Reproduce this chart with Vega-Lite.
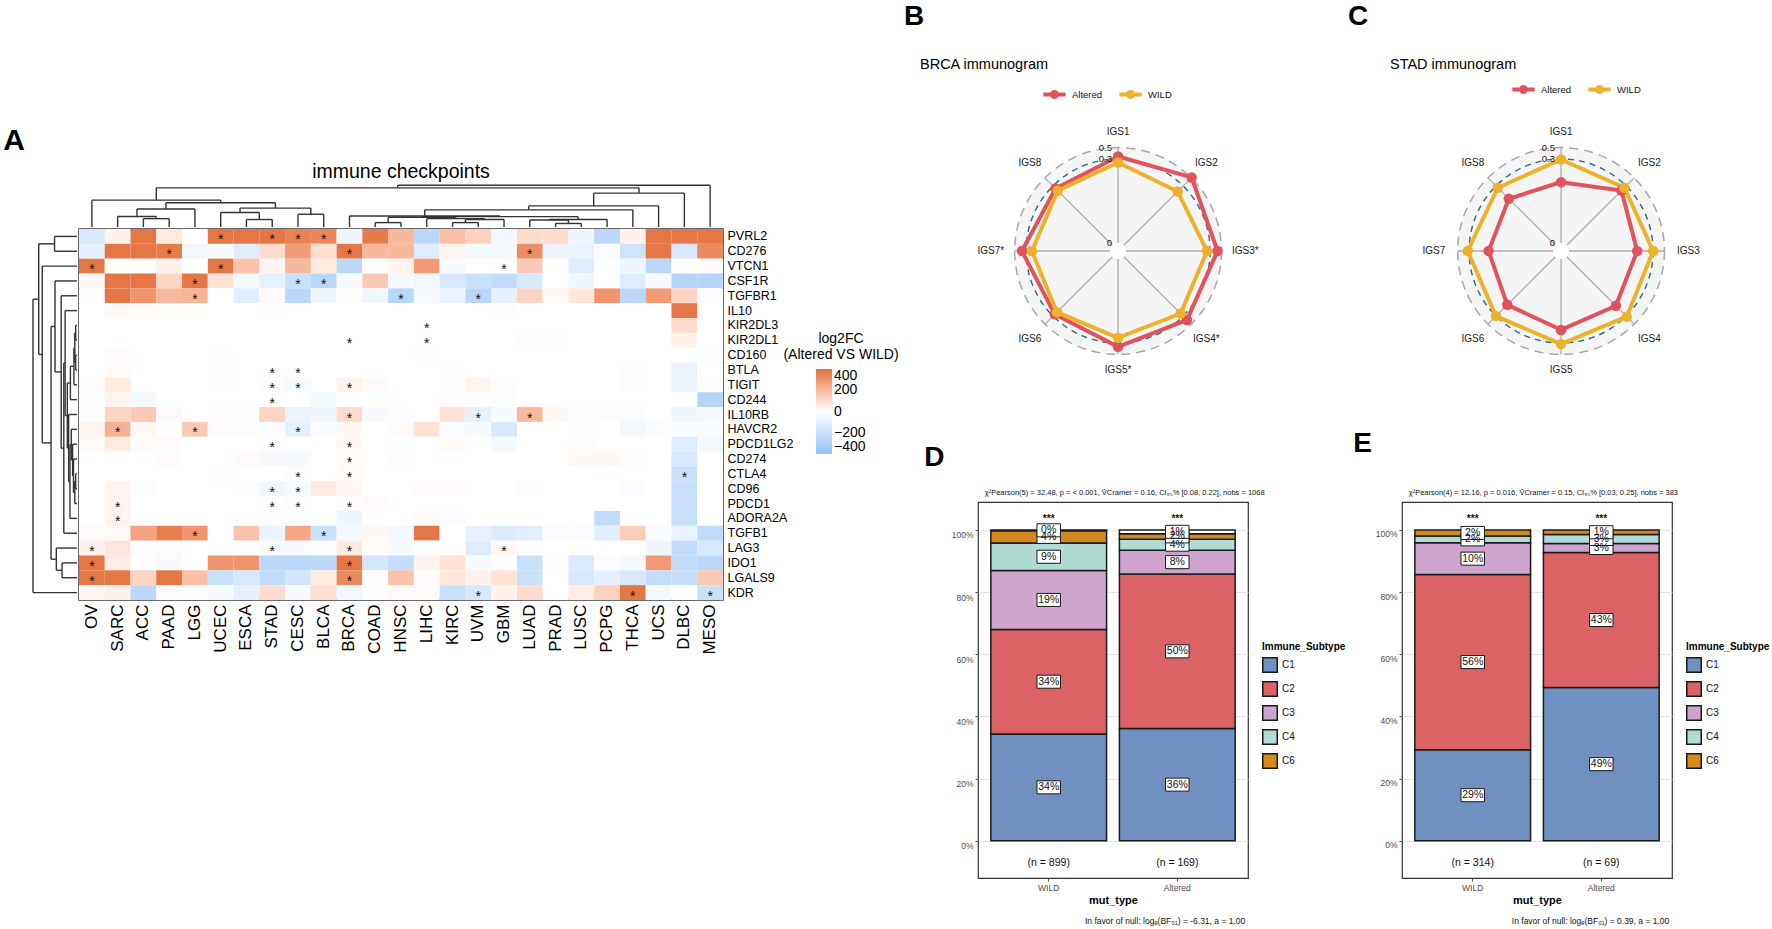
{
  "$schema": "https://vega.github.io/schema/vega-lite/v6.json",
  "background": "white",
  "padding": {"left": 3, "top": 2, "right": 0, "bottom": 0},
  "config": {
    "font": "Liberation Sans, Arial, sans-serif",
    "view": {"stroke": null},
    "title": {"font": "Liberation Sans, Arial, sans-serif", "fontWeight": "normal", "color": "#000000"},
    "axis": {"labelFont": "Liberation Sans, Arial, sans-serif", "titleFont": "Liberation Sans, Arial, sans-serif"},
    "legend": {"labelFont": "Liberation Sans, Arial, sans-serif", "titleFont": "Liberation Sans, Arial, sans-serif"},
    "text": {"font": "Liberation Sans, Arial, sans-serif"}
  },
  "datasets": {
    "hm": [
      {"gene":"PVRL2","OV":-150,"SARC":40,"ACC":380,"PAAD":60,"LGG":0,"UCEC":380,"ESCA":380,"STAD":380,"CESC":350,"BLCA":340,"BRCA":-60,"COAD":370,"HNSC":200,"LIHC":-250,"KIRC":180,"UVM":130,"GBM":-50,"LUAD":100,"PRAD":100,"LUSC":-60,"PCPG":-250,"THCA":40,"UCS":380,"DLBC":380,"MESO":380},
      {"gene":"CD276","OV":-100,"SARC":380,"ACC":380,"PAAD":370,"LGG":-50,"UCEC":-30,"ESCA":-120,"STAD":100,"CESC":280,"BLCA":90,"BRCA":380,"COAD":200,"HNSC":200,"LIHC":-120,"KIRC":30,"UVM":-40,"GBM":-40,"LUAD":320,"PRAD":-80,"LUSC":-80,"PCPG":-20,"THCA":-180,"UCS":380,"DLBC":-150,"MESO":330},
      {"gene":"VTCN1","OV":380,"SARC":0,"ACC":0,"PAAD":40,"LGG":0,"UCEC":380,"ESCA":170,"STAD":30,"CESC":200,"BLCA":60,"BRCA":-250,"COAD":0,"HNSC":30,"LIHC":280,"KIRC":-30,"UVM":0,"GBM":0,"LUAD":150,"PRAD":0,"LUSC":-120,"PCPG":0,"THCA":-60,"UCS":-250,"DLBC":0,"MESO":10},
      {"gene":"CSF1R","OV":20,"SARC":380,"ACC":380,"PAAD":120,"LGG":380,"UCEC":80,"ESCA":-40,"STAD":-90,"CESC":-200,"BLCA":-260,"BRCA":-30,"COAD":150,"HNSC":-30,"LIHC":-50,"KIRC":-150,"UVM":-200,"GBM":-230,"LUAD":-150,"PRAD":0,"LUSC":-60,"PCPG":0,"THCA":-120,"UCS":-30,"DLBC":-270,"MESO":-270},
      {"gene":"TGFBR1","OV":5,"SARC":380,"ACC":300,"PAAD":200,"LGG":210,"UCEC":0,"ESCA":-110,"STAD":10,"CESC":-260,"BLCA":-60,"BRCA":10,"COAD":-50,"HNSC":-260,"LIHC":-30,"KIRC":-80,"UVM":-260,"GBM":-100,"LUAD":120,"PRAD":20,"LUSC":70,"PCPG":300,"THCA":-250,"UCS":280,"DLBC":120,"MESO":-10},
      {"gene":"IL10","OV":0,"SARC":15,"ACC":10,"PAAD":5,"LGG":5,"UCEC":0,"ESCA":0,"STAD":-5,"CESC":0,"BLCA":0,"BRCA":0,"COAD":0,"HNSC":0,"LIHC":0,"KIRC":0,"UVM":0,"GBM":-10,"LUAD":0,"PRAD":0,"LUSC":0,"PCPG":0,"THCA":0,"UCS":0,"DLBC":380,"MESO":0},
      {"gene":"KIR2DL3","OV":0,"SARC":0,"ACC":0,"PAAD":0,"LGG":0,"UCEC":0,"ESCA":0,"STAD":0,"CESC":0,"BLCA":0,"BRCA":0,"COAD":0,"HNSC":0,"LIHC":0,"KIRC":0,"UVM":0,"GBM":0,"LUAD":0,"PRAD":0,"LUSC":0,"PCPG":0,"THCA":0,"UCS":0,"DLBC":100,"MESO":0},
      {"gene":"KIR2DL1","OV":0,"SARC":0,"ACC":0,"PAAD":0,"LGG":0,"UCEC":0,"ESCA":0,"STAD":0,"CESC":0,"BLCA":0,"BRCA":0,"COAD":0,"HNSC":0,"LIHC":0,"KIRC":0,"UVM":0,"GBM":0,"LUAD":-10,"PRAD":5,"LUSC":0,"PCPG":0,"THCA":0,"UCS":0,"DLBC":40,"MESO":0},
      {"gene":"CD160","OV":0,"SARC":10,"ACC":0,"PAAD":0,"LGG":0,"UCEC":-5,"ESCA":0,"STAD":0,"CESC":0,"BLCA":0,"BRCA":0,"COAD":0,"HNSC":0,"LIHC":5,"KIRC":0,"UVM":0,"GBM":0,"LUAD":0,"PRAD":0,"LUSC":0,"PCPG":0,"THCA":0,"UCS":0,"DLBC":0,"MESO":-15},
      {"gene":"BTLA","OV":0,"SARC":15,"ACC":0,"PAAD":0,"LGG":0,"UCEC":-10,"ESCA":0,"STAD":0,"CESC":0,"BLCA":0,"BRCA":0,"COAD":0,"HNSC":0,"LIHC":0,"KIRC":5,"UVM":0,"GBM":0,"LUAD":0,"PRAD":0,"LUSC":0,"PCPG":0,"THCA":-10,"UCS":0,"DLBC":-80,"MESO":0},
      {"gene":"TIGIT","OV":10,"SARC":60,"ACC":0,"PAAD":0,"LGG":0,"UCEC":-10,"ESCA":0,"STAD":-15,"CESC":-30,"BLCA":0,"BRCA":30,"COAD":15,"HNSC":0,"LIHC":0,"KIRC":0,"UVM":30,"GBM":-15,"LUAD":0,"PRAD":0,"LUSC":0,"PCPG":0,"THCA":-15,"UCS":0,"DLBC":-60,"MESO":-20},
      {"gene":"CD244","OV":0,"SARC":30,"ACC":-40,"PAAD":0,"LGG":0,"UCEC":0,"ESCA":0,"STAD":0,"CESC":0,"BLCA":-40,"BRCA":0,"COAD":0,"HNSC":0,"LIHC":0,"KIRC":10,"UVM":0,"GBM":-10,"LUAD":0,"PRAD":0,"LUSC":0,"PCPG":0,"THCA":0,"UCS":0,"DLBC":0,"MESO":-270},
      {"gene":"IL10RB","OV":-10,"SARC":120,"ACC":150,"PAAD":15,"LGG":0,"UCEC":10,"ESCA":-10,"STAD":120,"CESC":-70,"BLCA":-60,"BRCA":100,"COAD":-30,"HNSC":-10,"LIHC":0,"KIRC":80,"UVM":-100,"GBM":-30,"LUAD":200,"PRAD":20,"LUSC":-20,"PCPG":-20,"THCA":-20,"UCS":0,"DLBC":-60,"MESO":-40},
      {"gene":"HAVCR2","OV":25,"SARC":220,"ACC":20,"PAAD":0,"LGG":150,"UCEC":10,"ESCA":10,"STAD":-20,"CESC":-90,"BLCA":-20,"BRCA":20,"COAD":0,"HNSC":10,"LIHC":80,"KIRC":-20,"UVM":-30,"GBM":-150,"LUAD":0,"PRAD":0,"LUSC":-10,"PCPG":0,"THCA":-40,"UCS":-20,"DLBC":-20,"MESO":-20},
      {"gene":"PDCD1LG2","OV":15,"SARC":60,"ACC":10,"PAAD":10,"LGG":0,"UCEC":0,"ESCA":0,"STAD":-10,"CESC":0,"BLCA":0,"BRCA":20,"COAD":0,"HNSC":0,"LIHC":0,"KIRC":15,"UVM":0,"GBM":-40,"LUAD":0,"PRAD":0,"LUSC":10,"PCPG":0,"THCA":0,"UCS":0,"DLBC":-120,"MESO":-40},
      {"gene":"CD274","OV":0,"SARC":0,"ACC":0,"PAAD":10,"LGG":0,"UCEC":0,"ESCA":10,"STAD":-30,"CESC":-30,"BLCA":0,"BRCA":15,"COAD":0,"HNSC":-10,"LIHC":0,"KIRC":0,"UVM":0,"GBM":0,"LUAD":0,"PRAD":0,"LUSC":20,"PCPG":20,"THCA":-10,"UCS":0,"DLBC":-150,"MESO":0},
      {"gene":"CTLA4","OV":0,"SARC":0,"ACC":0,"PAAD":0,"LGG":0,"UCEC":-10,"ESCA":0,"STAD":0,"CESC":-10,"BLCA":0,"BRCA":15,"COAD":0,"HNSC":0,"LIHC":0,"KIRC":0,"UVM":0,"GBM":0,"LUAD":0,"PRAD":0,"LUSC":0,"PCPG":0,"THCA":0,"UCS":0,"DLBC":-200,"MESO":0},
      {"gene":"CD96","OV":0,"SARC":30,"ACC":-10,"PAAD":0,"LGG":0,"UCEC":0,"ESCA":-10,"STAD":-50,"CESC":-30,"BLCA":60,"BRCA":20,"COAD":0,"HNSC":0,"LIHC":10,"KIRC":15,"UVM":0,"GBM":0,"LUAD":-20,"PRAD":0,"LUSC":0,"PCPG":0,"THCA":-20,"UCS":0,"DLBC":-200,"MESO":0},
      {"gene":"PDCD1","OV":0,"SARC":30,"ACC":0,"PAAD":0,"LGG":0,"UCEC":0,"ESCA":0,"STAD":0,"CESC":-15,"BLCA":0,"BRCA":5,"COAD":10,"HNSC":0,"LIHC":0,"KIRC":0,"UVM":0,"GBM":0,"LUAD":0,"PRAD":0,"LUSC":0,"PCPG":0,"THCA":0,"UCS":0,"DLBC":-200,"MESO":0},
      {"gene":"ADORA2A","OV":0,"SARC":30,"ACC":0,"PAAD":0,"LGG":0,"UCEC":0,"ESCA":0,"STAD":-10,"CESC":-10,"BLCA":0,"BRCA":-60,"COAD":0,"HNSC":0,"LIHC":10,"KIRC":-20,"UVM":0,"GBM":0,"LUAD":0,"PRAD":0,"LUSC":0,"PCPG":-230,"THCA":0,"UCS":0,"DLBC":-200,"MESO":0},
      {"gene":"TGFB1","OV":10,"SARC":15,"ACC":260,"PAAD":360,"LGG":300,"UCEC":0,"ESCA":170,"STAD":-70,"CESC":250,"BLCA":-200,"BRCA":-40,"COAD":20,"HNSC":-40,"LIHC":380,"KIRC":0,"UVM":-90,"GBM":-130,"LUAD":-110,"PRAD":-20,"LUSC":-20,"PCPG":-110,"THCA":140,"UCS":-20,"DLBC":-80,"MESO":-230},
      {"gene":"LAG3","OV":40,"SARC":70,"ACC":-10,"PAAD":10,"LGG":0,"UCEC":0,"ESCA":0,"STAD":-30,"CESC":-30,"BLCA":-20,"BRCA":60,"COAD":10,"HNSC":-30,"LIHC":0,"KIRC":0,"UVM":-120,"GBM":20,"LUAD":-10,"PRAD":0,"LUSC":0,"PCPG":0,"THCA":0,"UCS":-60,"DLBC":-230,"MESO":-150},
      {"gene":"IDO1","OV":380,"SARC":50,"ACC":0,"PAAD":-30,"LGG":0,"UCEC":300,"ESCA":300,"STAD":-250,"CESC":-250,"BLCA":-250,"BRCA":380,"COAD":-160,"HNSC":-220,"LIHC":30,"KIRC":80,"UVM":-30,"GBM":-10,"LUAD":-200,"PRAD":-5,"LUSC":-130,"PCPG":-20,"THCA":-40,"UCS":280,"DLBC":-230,"MESO":-250},
      {"gene":"LGALS9","OV":380,"SARC":380,"ACC":120,"PAAD":380,"LGG":180,"UCEC":-200,"ESCA":-150,"STAD":-230,"CESC":-170,"BLCA":60,"BRCA":330,"COAD":5,"HNSC":170,"LIHC":10,"KIRC":70,"UVM":40,"GBM":80,"LUAD":-200,"PRAD":0,"LUSC":-150,"PCPG":-100,"THCA":-150,"UCS":-220,"DLBC":-220,"MESO":150},
      {"gene":"KDR","OV":30,"SARC":40,"ACC":-250,"PAAD":-20,"LGG":-15,"UCEC":-30,"ESCA":-100,"STAD":100,"CESC":-30,"BLCA":90,"BRCA":-50,"COAD":0,"HNSC":15,"LIHC":10,"KIRC":-200,"UVM":-150,"GBM":40,"LUAD":100,"PRAD":0,"LUSC":50,"PCPG":130,"THCA":380,"UCS":-40,"DLBC":0,"MESO":-200}
    ],
    "stars": [
      {"gene":"PVRL2","cancer":"UCEC"},{"gene":"PVRL2","cancer":"STAD"},{"gene":"PVRL2","cancer":"CESC"},{"gene":"PVRL2","cancer":"BLCA"},
      {"gene":"CD276","cancer":"PAAD"},{"gene":"CD276","cancer":"BRCA"},{"gene":"CD276","cancer":"LUAD"},
      {"gene":"VTCN1","cancer":"OV"},{"gene":"VTCN1","cancer":"UCEC"},{"gene":"VTCN1","cancer":"GBM"},
      {"gene":"CSF1R","cancer":"LGG"},{"gene":"CSF1R","cancer":"CESC"},{"gene":"CSF1R","cancer":"BLCA"},
      {"gene":"TGFBR1","cancer":"LGG"},{"gene":"TGFBR1","cancer":"HNSC"},{"gene":"TGFBR1","cancer":"UVM"},
      {"gene":"KIR2DL3","cancer":"LIHC"},
      {"gene":"KIR2DL1","cancer":"BRCA"},{"gene":"KIR2DL1","cancer":"LIHC"},
      {"gene":"BTLA","cancer":"STAD"},{"gene":"BTLA","cancer":"CESC"},
      {"gene":"TIGIT","cancer":"STAD"},{"gene":"TIGIT","cancer":"CESC"},{"gene":"TIGIT","cancer":"BRCA"},
      {"gene":"CD244","cancer":"STAD"},
      {"gene":"IL10RB","cancer":"BRCA"},{"gene":"IL10RB","cancer":"UVM"},{"gene":"IL10RB","cancer":"LUAD"},
      {"gene":"HAVCR2","cancer":"SARC"},{"gene":"HAVCR2","cancer":"LGG"},{"gene":"HAVCR2","cancer":"CESC"},
      {"gene":"PDCD1LG2","cancer":"STAD"},{"gene":"PDCD1LG2","cancer":"BRCA"},
      {"gene":"CD274","cancer":"BRCA"},
      {"gene":"CTLA4","cancer":"CESC"},{"gene":"CTLA4","cancer":"BRCA"},{"gene":"CTLA4","cancer":"DLBC"},
      {"gene":"CD96","cancer":"STAD"},{"gene":"CD96","cancer":"CESC"},
      {"gene":"PDCD1","cancer":"SARC"},{"gene":"PDCD1","cancer":"STAD"},{"gene":"PDCD1","cancer":"CESC"},{"gene":"PDCD1","cancer":"BRCA"},
      {"gene":"ADORA2A","cancer":"SARC"},
      {"gene":"TGFB1","cancer":"LGG"},{"gene":"TGFB1","cancer":"BLCA"},
      {"gene":"LAG3","cancer":"OV"},{"gene":"LAG3","cancer":"STAD"},{"gene":"LAG3","cancer":"BRCA"},{"gene":"LAG3","cancer":"GBM"},
      {"gene":"IDO1","cancer":"OV"},{"gene":"IDO1","cancer":"BRCA"},
      {"gene":"LGALS9","cancer":"OV"},{"gene":"LGALS9","cancer":"BRCA"},
      {"gene":"KDR","cancer":"UVM"},{"gene":"KDR","cancer":"THCA"},{"gene":"KDR","cancer":"MESO"}
    ],
    "coltree": [
      {"a":2,"ha":0,"b":3,"hb":0,"h":0.19},
      {"a":1,"ha":0,"b":2.5,"hb":0.19,"h":0.24},
      {"a":1.75,"ha":0.24,"b":4,"hb":0,"h":0.41},
      {"a":6,"ha":0,"b":7,"hb":0,"h":0.17},
      {"a":5,"ha":0,"b":6.5,"hb":0.17,"h":0.33},
      {"a":8,"ha":0,"b":9,"hb":0,"h":0.29},
      {"a":5.75,"ha":0.33,"b":8.5,"hb":0.29,"h":0.43},
      {"a":2.875,"ha":0.41,"b":7.125,"hb":0.43,"h":0.55},
      {"a":0,"ha":0,"b":5.0,"hb":0.55,"h":0.61},
      {"a":11,"ha":0,"b":12,"hb":0,"h":0.10},
      {"a":14,"ha":0,"b":15,"hb":0,"h":0.10},
      {"a":14.5,"ha":0.10,"b":16,"hb":0,"h":0.17},
      {"a":18,"ha":0,"b":19,"hb":0,"h":0.08},
      {"a":17,"ha":0,"b":18.5,"hb":0.08,"h":0.16},
      {"a":17.75,"ha":0.16,"b":20,"hb":0,"h":0.17},
      {"a":13,"ha":0,"b":15.25,"hb":0.17,"h":0.19},
      {"a":11.5,"ha":0.10,"b":14.125,"hb":0.19,"h":0.22},
      {"a":12.8125,"ha":0.22,"b":18.875,"hb":0.17,"h":0.235},
      {"a":10,"ha":0,"b":15.84,"hb":0.235,"h":0.25},
      {"a":12.92,"ha":0.25,"b":21,"hb":0,"h":0.39},
      {"a":16.96,"ha":0.39,"b":22,"hb":0,"h":0.48},
      {"a":19.48,"ha":0.48,"b":23,"hb":0,"h":0.77},
      {"a":2.5,"ha":0.61,"b":21.24,"hb":0.77,"h":0.89},
      {"a":11.87,"ha":0.89,"b":24,"hb":0,"h":0.95}
    ],
    "rowtree": [
      {"a":0,"ha":0,"b":1,"hb":0,"h":0.51},
      {"a":6,"ha":0,"b":7,"hb":0,"h":0.03},
      {"a":8,"ha":0,"b":9,"hb":0,"h":0.03},
      {"a":6.5,"ha":0.03,"b":8.5,"hb":0.03,"h":0.05},
      {"a":7.5,"ha":0.05,"b":10,"hb":0,"h":0.07},
      {"a":8.75,"ha":0.07,"b":11,"hb":0,"h":0.15},
      {"a":16,"ha":0,"b":17,"hb":0,"h":0.03},
      {"a":16.5,"ha":0.03,"b":18,"hb":0,"h":0.05},
      {"a":15,"ha":0,"b":17.25,"hb":0.05,"h":0.08},
      {"a":14,"ha":0,"b":16.125,"hb":0.08,"h":0.10},
      {"a":13,"ha":0,"b":15.06,"hb":0.10,"h":0.13},
      {"a":14.03,"ha":0.13,"b":19,"hb":0,"h":0.16},
      {"a":12,"ha":0,"b":16.52,"hb":0.16,"h":0.19},
      {"a":9.875,"ha":0.15,"b":14.26,"hb":0.19,"h":0.22},
      {"a":5,"ha":0,"b":12.07,"hb":0.22,"h":0.27},
      {"a":8.53,"ha":0.27,"b":20,"hb":0,"h":0.30},
      {"a":4,"ha":0,"b":14.27,"hb":0.30,"h":0.36},
      {"a":3,"ha":0,"b":9.13,"hb":0.36,"h":0.50},
      {"a":22,"ha":0,"b":23,"hb":0,"h":0.34},
      {"a":21,"ha":0,"b":22.5,"hb":0.34,"h":0.47},
      {"a":6.07,"ha":0.50,"b":21.75,"hb":0.47,"h":0.59},
      {"a":2,"ha":0,"b":13.91,"hb":0.59,"h":0.79},
      {"a":0.5,"ha":0.51,"b":7.95,"hb":0.79,"h":0.87},
      {"a":4.23,"ha":0.87,"b":24,"hb":0,"h":1.0}
    ],
    "radarB": [
      {"grp":"Altered","k":0,"v":0.342},{"grp":"Altered","k":1,"v":0.51},{"grp":"Altered","k":2,"v":0.43},{"grp":"Altered","k":3,"v":0.395},
      {"grp":"Altered","k":4,"v":0.365},{"grp":"Altered","k":5,"v":0.291},{"grp":"Altered","k":6,"v":0.371},{"grp":"Altered","k":7,"v":0.287},
      {"grp":"WILD","k":0,"v":0.287},{"grp":"WILD","k":1,"v":0.272},{"grp":"WILD","k":2,"v":0.289},{"grp":"WILD","k":3,"v":0.287},
      {"grp":"WILD","k":4,"v":0.281},{"grp":"WILD","k":5,"v":0.280},{"grp":"WILD","k":6,"v":0.279},{"grp":"WILD","k":7,"v":0.276}
    ],
    "radarC": [
      {"grp":"Altered","k":0,"v":0.217},{"grp":"Altered","k":1,"v":0.276},{"grp":"Altered","k":2,"v":0.243},{"grp":"Altered","k":3,"v":0.248},
      {"grp":"Altered","k":4,"v":0.253},{"grp":"Altered","k":5,"v":0.243},{"grp":"Altered","k":6,"v":0.230},{"grp":"Altered","k":7,"v":0.235},
      {"grp":"WILD","k":0,"v":0.298},{"grp":"WILD","k":1,"v":0.291},{"grp":"WILD","k":2,"v":0.300},{"grp":"WILD","k":3,"v":0.314},
      {"grp":"WILD","k":4,"v":0.318},{"grp":"WILD","k":5,"v":0.300},{"grp":"WILD","k":6,"v":0.323},{"grp":"WILD","k":7,"v":0.291}
    ],
    "axesB": [
      {"k":0,"label":"IGS1"},{"k":1,"label":"IGS2"},{"k":2,"label":"IGS3*"},{"k":3,"label":"IGS4*"},
      {"k":4,"label":"IGS5*"},{"k":5,"label":"IGS6"},{"k":6,"label":"IGS7*"},{"k":7,"label":"IGS8"}
    ],
    "axesC": [
      {"k":0,"label":"IGS1"},{"k":1,"label":"IGS2"},{"k":2,"label":"IGS3"},{"k":3,"label":"IGS4"},
      {"k":4,"label":"IGS5"},{"k":5,"label":"IGS6"},{"k":6,"label":"IGS7"},{"k":7,"label":"IGS8"}
    ],
    "rings": [{"lab":"0.5","v":0.5},{"lab":"0.3","v":0.3},{"lab":"0","v":0}],
    "barD": [
      {"mut":"WILD","sub":"C1","n":309,"ord":1},{"mut":"WILD","sub":"C2","n":302,"ord":2},{"mut":"WILD","sub":"C3","n":171,"ord":3},
      {"mut":"WILD","sub":"C4","n":79,"ord":4},{"mut":"WILD","sub":"C6","n":36,"ord":5},{"mut":"WILD","sub":"C5","n":2,"ord":6},
      {"mut":"Altered","sub":"C1","n":61,"ord":1},{"mut":"Altered","sub":"C2","n":84,"ord":2},{"mut":"Altered","sub":"C3","n":13,"ord":3},
      {"mut":"Altered","sub":"C4","n":6,"ord":4},{"mut":"Altered","sub":"C6","n":3,"ord":5},{"mut":"Altered","sub":"C5","n":2,"ord":6}
    ],
    "barE": [
      {"mut":"WILD","sub":"C1","n":92,"ord":1},{"mut":"WILD","sub":"C2","n":177,"ord":2},{"mut":"WILD","sub":"C3","n":32,"ord":3},
      {"mut":"WILD","sub":"C4","n":7,"ord":4},{"mut":"WILD","sub":"C6","n":6,"ord":5},
      {"mut":"Altered","sub":"C1","n":34,"ord":1},{"mut":"Altered","sub":"C2","n":30,"ord":2},{"mut":"Altered","sub":"C3","n":2,"ord":3},
      {"mut":"Altered","sub":"C4","n":2,"ord":4},{"mut":"Altered","sub":"C6","n":1,"ord":5}
    ],
    "annD": [
      {"mut":"WILD","kind":"star","label":"***"},{"mut":"Altered","kind":"star","label":"***"},
      {"mut":"WILD","kind":"n","label":"(n = 899)"},{"mut":"Altered","kind":"n","label":"(n = 169)"},
      {"mut":"WILD","kind":"chi","label":"\u03c7\u00b2Pearson(5) = 32.48, p = < 0.001, V\u0302Cramer = 0.16, CI\u2089\u2085% [0.08, 0.22], nobs = 1068"},
      {"mut":"Altered","kind":"cap","label":"In favor of null: log\u2091(BF\u2080\u2081) = -6.31, a = 1.00"}
    ],
    "annE": [
      {"mut":"WILD","kind":"star","label":"***"},{"mut":"Altered","kind":"star","label":"***"},
      {"mut":"WILD","kind":"n","label":"(n = 314)"},{"mut":"Altered","kind":"n","label":"(n = 69)"},
      {"mut":"WILD","kind":"chi","label":"\u03c7\u00b2Pearson(4) = 12.16, p = 0.016, V\u0302Cramer = 0.15, CI\u2089\u2085% [0.03, 0.25], nobs = 383"},
      {"mut":"Altered","kind":"cap","label":"In favor of null: log\u2091(BF\u2080\u2081) = 0.39, a = 1.00"}
    ]
  },
  "resolve": {"scale": {"color": "independent", "fill": "independent"}, "legend": {"color": "independent", "fill": "independent"}},
  "spacing": 4,
  "hconcat": [
    {
      "spacing": 0,
      "resolve": {"scale": {"color": "independent", "fill": "independent"}, "legend": {"color": "independent", "fill": "independent"}},
      "vconcat": [
        {"data": {"values": [{}]}, "mark": {"type": "point", "opacity": 0}, "encoding": {}, "width": 10, "height": 24},
        {
          "title": {"text": "A", "fontSize": 30, "fontWeight": "bold", "anchor": "start", "frame": "bounds", "dx": -29, "offset": 6},
          "columns": 2,
          "spacing": 0,
          "resolve": {"scale": {"color": "independent", "fill": "independent"}, "legend": {"color": "independent", "fill": "independent"}},
          "concat": [
            {"data": {"values": [{}]}, "mark": {"type": "point", "opacity": 0}, "encoding": {}, "width": 44, "height": 44},
            {
              "width": 644, "height": 44,
              "title": {"text": "immune checkpoints", "fontSize": 19.5, "anchor": "middle", "offset": 1},
              "data": {"name": "coltree"},
              "layer": [
                {"mark": {"type": "rule", "color": "#333333", "strokeWidth": 1.4},
                 "encoding": {"x": {"field": "a", "type": "quantitative", "scale": {"domain": [-0.5, 24.5], "nice": false, "zero": false}, "axis": null},
                              "x2": {"field": "b"},
                              "y": {"field": "h", "type": "quantitative", "scale": {"domain": [0, 1], "nice": false}, "axis": null}}},
                {"mark": {"type": "rule", "color": "#333333", "strokeWidth": 1.4},
                 "encoding": {"x": {"field": "a", "type": "quantitative", "scale": {"domain": [-0.5, 24.5], "nice": false, "zero": false}, "axis": null},
                              "y": {"field": "ha", "type": "quantitative", "scale": {"domain": [0, 1], "nice": false}, "axis": null},
                              "y2": {"field": "h"}}},
                {"mark": {"type": "rule", "color": "#333333", "strokeWidth": 1.4},
                 "encoding": {"x": {"field": "b", "type": "quantitative", "scale": {"domain": [-0.5, 24.5], "nice": false, "zero": false}, "axis": null},
                              "y": {"field": "hb", "type": "quantitative", "scale": {"domain": [0, 1], "nice": false}, "axis": null},
                              "y2": {"field": "h"}}}
              ]
            },
            {
              "width": 44, "height": 371,
              "data": {"name": "rowtree"},
              "layer": [
                {"mark": {"type": "rule", "color": "#333333", "strokeWidth": 1.4},
                 "encoding": {"x": {"field": "h", "type": "quantitative", "scale": {"domain": [0, 1], "reverse": true, "nice": false}, "axis": null},
                              "y": {"field": "a", "type": "quantitative", "scale": {"domain": [-0.5, 24.5], "reverse": true, "nice": false, "zero": false}, "axis": null},
                              "y2": {"field": "b"}}},
                {"mark": {"type": "rule", "color": "#333333", "strokeWidth": 1.4},
                 "encoding": {"y": {"field": "a", "type": "quantitative", "scale": {"domain": [-0.5, 24.5], "reverse": true, "nice": false, "zero": false}, "axis": null},
                              "x": {"field": "ha", "type": "quantitative", "scale": {"domain": [0, 1], "reverse": true, "nice": false}, "axis": null},
                              "x2": {"field": "h"}}},
                {"mark": {"type": "rule", "color": "#333333", "strokeWidth": 1.4},
                 "encoding": {"y": {"field": "b", "type": "quantitative", "scale": {"domain": [-0.5, 24.5], "reverse": true, "nice": false, "zero": false}, "axis": null},
                              "x": {"field": "hb", "type": "quantitative", "scale": {"domain": [0, 1], "reverse": true, "nice": false}, "axis": null},
                              "x2": {"field": "h"}}}
              ]
            },
            {
              "width": 644, "height": 371,
              "view": {"stroke": "#3a3a3a", "strokeWidth": 1.5},
              "layer": [
                {
                  "data": {"name": "hm"},
                  "transform": [{"fold": ["OV","SARC","ACC","PAAD","LGG","UCEC","ESCA","STAD","CESC","BLCA","BRCA","COAD","HNSC","LIHC","KIRC","UVM","GBM","LUAD","PRAD","LUSC","PCPG","THCA","UCS","DLBC","MESO"], "as": ["cancer", "value"]}],
                  "mark": {"type": "rect"},
                  "encoding": {
                    "x": {"field": "cancer", "type": "nominal",
                          "sort": ["OV","SARC","ACC","PAAD","LGG","UCEC","ESCA","STAD","CESC","BLCA","BRCA","COAD","HNSC","LIHC","KIRC","UVM","GBM","LUAD","PRAD","LUSC","PCPG","THCA","UCS","DLBC","MESO"],
                          "axis": {"orient": "bottom", "title": null, "labelAngle": -90, "labelFontSize": 17, "labelPadding": 4, "ticks": false, "domain": false, "labelColor": "#000000"}},
                    "y": {"field": "gene", "type": "nominal",
                          "sort": ["PVRL2","CD276","VTCN1","CSF1R","TGFBR1","IL10","KIR2DL3","KIR2DL1","CD160","BTLA","TIGIT","CD244","IL10RB","HAVCR2","PDCD1LG2","CD274","CTLA4","CD96","PDCD1","ADORA2A","TGFB1","LAG3","IDO1","LGALS9","KDR"],
                          "axis": {"orient": "right", "title": null, "labelFontSize": 12.5, "labelPadding": 4, "ticks": false, "domain": false, "labelColor": "#000000"}},
                    "color": {"field": "value", "type": "quantitative",
                              "scale": {"domain": [-400, 0, 400], "range": ["#8FC2F6", "#FFFFFF", "#E2703E"], "clamp": true, "interpolate": "lab"},
                              "legend": {"orient": "none", "legendX": 704, "legendY": 103, "direction": "vertical",
                                         "title": ["log2FC", "(Altered VS WILD)"], "titleFontSize": 14, "titleFontWeight": "normal",
                                         "titleAlign": "center", "titleAnchor": "middle", "titlePadding": 7,
                                         "gradientLength": 85, "gradientThickness": 16,
                                         "values": [400, 200, 0, -200, -400], "labelFontSize": 14, "labelColor": "#000000"}}
                  }
                },
                {
                  "data": {"name": "stars"},
                  "mark": {"type": "text", "text": "*", "fontSize": 14, "dy": 4, "color": "#111111"},
                  "encoding": {
                    "x": {"field": "cancer", "type": "nominal", "sort": ["OV","SARC","ACC","PAAD","LGG","UCEC","ESCA","STAD","CESC","BLCA","BRCA","COAD","HNSC","LIHC","KIRC","UVM","GBM","LUAD","PRAD","LUSC","PCPG","THCA","UCS","DLBC","MESO"]},
                    "y": {"field": "gene", "type": "nominal", "sort": ["PVRL2","CD276","VTCN1","CSF1R","TGFBR1","IL10","KIR2DL3","KIR2DL1","CD160","BTLA","TIGIT","CD244","IL10RB","HAVCR2","PDCD1LG2","CD274","CTLA4","CD96","PDCD1","ADORA2A","TGFB1","LAG3","IDO1","LGALS9","KDR"]}
                  }
                }
              ]
            }
          ]
        }
      ]
    },
    {
      "spacing": 28,
      "resolve": {"scale": {"color": "independent", "fill": "independent"}, "legend": {"color": "independent", "fill": "independent"}},
      "vconcat": [
        {
          "spacing": 70,
          "resolve": {"scale": {"color": "independent", "fill": "independent"}, "legend": {"color": "independent", "fill": "independent"}},
          "hconcat": [
            {
              "title": {"text": "B", "fontSize": 28, "fontWeight": "bold", "anchor": "start", "frame": "bounds", "dx": -16, "offset": 26},
              "vconcat": [
                {
                  "width": 300, "height": 300,
                  "title": {"text": "BRCA immunogram", "fontSize": 14.5, "anchor": "start", "frame": "group", "dx": -58, "offset": 29},
                  "layer": [
                    {"data": {"values": [{}]}, "mark": {"type": "point", "shape": "circle", "filled": true, "size": 42767, "color": "#F5F5F5", "opacity": 1},
                     "encoding": {"x": {"datum": 0, "type": "quantitative", "scale": {"domain": [-1.354, 1.546], "nice": false, "zero": false}, "axis": null},
                                  "y": {"datum": 0, "type": "quantitative", "scale": {"domain": [-1.45, 1.45], "nice": false, "zero": false}, "axis": null}}},
                    {"data": {"values": [{}]}, "mark": {"type": "point", "shape": "circle", "filled": false, "size": 42767, "stroke": "#A8A8A8", "strokeWidth": 1.5, "strokeDash": [9, 6], "opacity": 1},
                     "encoding": {"x": {"datum": 0, "type": "quantitative"}, "y": {"datum": 0, "type": "quantitative"}}},
                    {"data": {"values": [{}]}, "mark": {"type": "point", "shape": "circle", "filled": false, "size": 33870, "stroke": "#236B8C", "strokeWidth": 1.4, "strokeDash": [6, 5], "opacity": 1},
                     "encoding": {"x": {"datum": 0, "type": "quantitative"}, "y": {"datum": 0, "type": "quantitative"}}},
                    {"data": {"name": "axesB"},
                     "transform": [{"calculate": "0.078*sin(datum.k*PI/4)", "as": "sx"}, {"calculate": "0.078*cos(datum.k*PI/4)", "as": "sy"},
                                   {"calculate": "sin(datum.k*PI/4)", "as": "ex"}, {"calculate": "cos(datum.k*PI/4)", "as": "ey"}],
                     "mark": {"type": "rule", "color": "#ABABAB", "strokeWidth": 1.3},
                     "encoding": {"x": {"field": "sx", "type": "quantitative"}, "y": {"field": "sy", "type": "quantitative"},
                                  "x2": {"field": "ex"}, "y2": {"field": "ey"}}},
                    {"data": {"values": [{}]}, "mark": {"type": "point", "shape": "circle", "filled": true, "size": 256, "color": "#FFFFFF", "opacity": 1},
                     "encoding": {"x": {"datum": 0, "type": "quantitative"}, "y": {"datum": 0, "type": "quantitative"}}},
                    {"data": {"name": "radarB"},
                     "transform": [{"calculate": "datum.v <= 0.3 ? 0.078 + datum.v * 2.707 : 0.89 + (datum.v - 0.3) * 0.55", "as": "rr"},
                                   {"calculate": "datum.rr*sin(datum.k*PI/4)", "as": "px"}, {"calculate": "datum.rr*cos(datum.k*PI/4)", "as": "py"}],
                     "layer": [
                       {"mark": {"type": "line", "strokeWidth": 4, "interpolate": "linear-closed"},
                        "encoding": {"x": {"field": "px", "type": "quantitative"}, "y": {"field": "py", "type": "quantitative"},
                                     "order": {"field": "k", "type": "quantitative"},
                                     "color": {"field": "grp", "type": "nominal", "scale": {"domain": ["Altered", "WILD"], "range": ["#E0535C", "#EDB12B"]},
                                               "legend": {"orient": "none", "legendX": 63, "legendY": -20, "direction": "horizontal", "title": null, "labelFontSize": 9.5, "labelColor": "#111111",
                                                          "symbolType": "M-1,0L1,0M0.22,0A0.22,0.22,0,1,1,-0.22,0A0.22,0.22,0,1,1,0.22,0", "symbolSize": 500,
                                                          "symbolStrokeWidth": 4, "columnPadding": 8, "padding": 0}}}},
                       {"mark": {"type": "point", "filled": true, "size": 110, "opacity": 1},
                        "encoding": {"x": {"field": "px", "type": "quantitative"}, "y": {"field": "py", "type": "quantitative"},
                                     "color": {"field": "grp", "type": "nominal", "legend": null}}}
                     ]},
                    {"data": {"name": "axesB"},
                     "transform": [{"calculate": "1.15 + 0.08*abs(sin(datum.k*PI/4))", "as": "lr"},
                                   {"calculate": "datum.lr*sin(datum.k*PI/4)", "as": "lx"}, {"calculate": "datum.lr*cos(datum.k*PI/4)", "as": "ly"}],
                     "mark": {"type": "text", "fontSize": 10, "color": "#1a1a1a", "align": "center", "baseline": "middle"},
                     "encoding": {"x": {"field": "lx", "type": "quantitative"}, "y": {"field": "ly", "type": "quantitative"}, "text": {"field": "label"}}},
                    {"data": {"name": "rings"},
                     "transform": [{"calculate": "datum.v <= 0.3 ? 0.078 + datum.v * 2.707 : 0.89 + (datum.v - 0.3) * 0.55", "as": "rr"}, {"calculate": "0", "as": "zx"}],
                     "mark": {"type": "text", "fontSize": 9.5, "color": "#1a1a1a", "align": "right", "baseline": "middle", "dx": -6},
                     "encoding": {"x": {"field": "zx", "type": "quantitative"}, "y": {"field": "rr", "type": "quantitative"}, "text": {"field": "lab"}}}
                  ]
                }
              ]
            },
            {
              "title": {"text": "C", "fontSize": 28, "fontWeight": "bold", "anchor": "start", "frame": "bounds", "dx": -42, "offset": 26},
              "vconcat": [
                {
                  "width": 300, "height": 300,
                  "title": {"text": "STAD immunogram", "fontSize": 14.5, "anchor": "start", "frame": "group", "dx": -31, "offset": 29},
                  "layer": [
                    {"data": {"values": [{}]}, "mark": {"type": "point", "shape": "circle", "filled": true, "size": 42767, "color": "#F5F5F5", "opacity": 1},
                     "encoding": {"x": {"datum": 0, "type": "quantitative", "scale": {"domain": [-1.354, 1.546], "nice": false, "zero": false}, "axis": null},
                                  "y": {"datum": 0, "type": "quantitative", "scale": {"domain": [-1.45, 1.45], "nice": false, "zero": false}, "axis": null}}},
                    {"data": {"values": [{}]}, "mark": {"type": "point", "shape": "circle", "filled": false, "size": 42767, "stroke": "#A8A8A8", "strokeWidth": 1.5, "strokeDash": [9, 6], "opacity": 1},
                     "encoding": {"x": {"datum": 0, "type": "quantitative"}, "y": {"datum": 0, "type": "quantitative"}}},
                    {"data": {"values": [{}]}, "mark": {"type": "point", "shape": "circle", "filled": false, "size": 33870, "stroke": "#236B8C", "strokeWidth": 1.4, "strokeDash": [6, 5], "opacity": 1},
                     "encoding": {"x": {"datum": 0, "type": "quantitative"}, "y": {"datum": 0, "type": "quantitative"}}},
                    {"data": {"name": "axesC"},
                     "transform": [{"calculate": "0.078*sin(datum.k*PI/4)", "as": "sx"}, {"calculate": "0.078*cos(datum.k*PI/4)", "as": "sy"},
                                   {"calculate": "sin(datum.k*PI/4)", "as": "ex"}, {"calculate": "cos(datum.k*PI/4)", "as": "ey"}],
                     "mark": {"type": "rule", "color": "#ABABAB", "strokeWidth": 1.3},
                     "encoding": {"x": {"field": "sx", "type": "quantitative"}, "y": {"field": "sy", "type": "quantitative"},
                                  "x2": {"field": "ex"}, "y2": {"field": "ey"}}},
                    {"data": {"values": [{}]}, "mark": {"type": "point", "shape": "circle", "filled": true, "size": 256, "color": "#FFFFFF", "opacity": 1},
                     "encoding": {"x": {"datum": 0, "type": "quantitative"}, "y": {"datum": 0, "type": "quantitative"}}},
                    {"data": {"name": "radarC"},
                     "transform": [{"calculate": "datum.v <= 0.3 ? 0.078 + datum.v * 2.707 : 0.89 + (datum.v - 0.3) * 0.55", "as": "rr"},
                                   {"calculate": "datum.rr*sin(datum.k*PI/4)", "as": "px"}, {"calculate": "datum.rr*cos(datum.k*PI/4)", "as": "py"}],
                     "layer": [
                       {"mark": {"type": "line", "strokeWidth": 4, "interpolate": "linear-closed"},
                        "encoding": {"x": {"field": "px", "type": "quantitative"}, "y": {"field": "py", "type": "quantitative"},
                                     "order": {"field": "k", "type": "quantitative"},
                                     "color": {"field": "grp", "type": "nominal", "scale": {"domain": ["Altered", "WILD"], "range": ["#E0535C", "#EDB12B"]},
                                               "legend": {"orient": "none", "legendX": 89, "legendY": -25, "direction": "horizontal", "title": null, "labelFontSize": 9.5, "labelColor": "#111111",
                                                          "symbolType": "M-1,0L1,0M0.22,0A0.22,0.22,0,1,1,-0.22,0A0.22,0.22,0,1,1,0.22,0", "symbolSize": 500,
                                                          "symbolStrokeWidth": 4, "columnPadding": 8, "padding": 0}}}},
                       {"mark": {"type": "point", "filled": true, "size": 110, "opacity": 1},
                        "encoding": {"x": {"field": "px", "type": "quantitative"}, "y": {"field": "py", "type": "quantitative"},
                                     "color": {"field": "grp", "type": "nominal", "legend": null}}}
                     ]},
                    {"data": {"name": "axesC"},
                     "transform": [{"calculate": "1.15 + 0.08*abs(sin(datum.k*PI/4))", "as": "lr"},
                                   {"calculate": "datum.lr*sin(datum.k*PI/4)", "as": "lx"}, {"calculate": "datum.lr*cos(datum.k*PI/4)", "as": "ly"}],
                     "mark": {"type": "text", "fontSize": 10, "color": "#1a1a1a", "align": "center", "baseline": "middle"},
                     "encoding": {"x": {"field": "lx", "type": "quantitative"}, "y": {"field": "ly", "type": "quantitative"}, "text": {"field": "label"}}},
                    {"data": {"name": "rings"},
                     "transform": [{"calculate": "datum.v <= 0.3 ? 0.078 + datum.v * 2.707 : 0.89 + (datum.v - 0.3) * 0.55", "as": "rr"}, {"calculate": "0", "as": "zx"}],
                     "mark": {"type": "text", "fontSize": 9.5, "color": "#1a1a1a", "align": "right", "baseline": "middle", "dx": -6},
                     "encoding": {"x": {"field": "zx", "type": "quantitative"}, "y": {"field": "rr", "type": "quantitative"}, "text": {"field": "lab"}}}
                  ]
                }
              ]
            }
          ]
        },
        {
          "spacing": 5,
          "resolve": {"scale": {"color": "independent", "fill": "independent"}, "legend": {"color": "independent", "fill": "independent"}},
          "hconcat": [
            {
              "width": 270, "height": 376,
              "view": {"stroke": "#333333", "strokeWidth": 1.2},
              "title": {"text": "D", "fontSize": 28, "fontWeight": "bold", "anchor": "start", "frame": "bounds", "dx": -27, "offset": 17},
              "encoding": {
                "x": {"field": "mut", "type": "nominal", "sort": ["WILD", "Altered"], "scale": {"paddingInner": 0.1, "paddingOuter": 0.1},
                      "axis": {"title": "mut_type", "titleFontSize": 11, "titleFontWeight": "bold", "titlePadding": 3, "labelFontSize": 8.5, "labelColor": "#4D4D4D", "labelAngle": 0, "tickColor": "#4D4D4D", "tickSize": 3, "domain": false, "labelPadding": 2, "grid": false}}
              },
              "layer": [
                {
                  "data": {"name": "barD"},
                  "transform": [
                    {"stack": "n", "groupby": ["mut"], "sort": [{"field": "ord", "order": "ascending"}], "offset": "normalize", "as": ["y0", "y1"]},
                    {"calculate": "(datum.y0 + datum.y1) / 2", "as": "mid"},
                    {"calculate": "datum.y1 - datum.y0", "as": "frac"}
                  ],
                  "layer": [
                    {"mark": {"type": "bar", "stroke": "#1a1a1a", "strokeWidth": 1.5},
                     "encoding": {
                       "y": {"field": "y0", "type": "quantitative", "scale": {"domain": [-0.12, 1.09], "nice": false, "zero": false},
                             "axis": {"values": [0, 0.05, 0.1, 0.15, 0.2, 0.25, 0.3, 0.35, 0.4, 0.45, 0.5, 0.55, 0.6, 0.65, 0.7, 0.75, 0.8, 0.85, 0.9, 0.95, 1.0], "format": ".0%",
                                      "labelExpr": "round(datum.value*100) % 10 === 0 ? datum.label : ''", "labelOverlap": false, "labelOffset": 5,
                                      "labelFontSize": 8.5, "labelColor": "#4D4D4D", "labelPadding": 2, "tickColor": "#4D4D4D", "tickSize": 3,
                                      "tickOpacity": {"condition": {"test": "round(datum.value*100) % 10 === 0", "value": 1}, "value": 0},
                                      "grid": true, "gridColor": {"condition": {"test": "round(datum.value*100) % 10 === 0", "value": "#E4E4E4"}, "value": "#EFEFEF"},
                                      "gridWidth": {"condition": {"test": "round(datum.value*100) % 10 === 0", "value": 1.2}, "value": 0.7},
                                      "domain": false, "title": null}},
                       "y2": {"field": "y1"},
                       "fill": {"field": "sub", "type": "nominal",
                                "scale": {"domain": ["C1", "C2", "C3", "C4", "C6", "C5"], "range": ["#7090BF", "#DB6265", "#CCA4CC", "#AFDBD4", "#D4891F", "#FFFFFF"]},
                                "legend": {"orient": "none", "legendX": 284, "legendY": 140, "title": "Immune_Subtype", "titleFontSize": 10, "titleFontWeight": "bold",
                                           "labelFontSize": 10, "symbolType": "square", "symbolSize": 210, "symbolStrokeColor": "#1a1a1a", "symbolStrokeWidth": 1.5,
                                           "values": ["C1", "C2", "C3", "C4", "C6"], "rowPadding": 2, "titlePadding": 5, "labelColor": "#111111", "padding": 0}}
                     }},
                    {"mark": {"type": "point", "shape": "M-1.8,-1L1.8,-1L1.8,1L-1.8,1Z", "size": 170, "filled": true, "fill": "#FFFFFF", "stroke": "#1a1a1a", "strokeWidth": 1, "opacity": 1},
                     "encoding": {"y": {"field": "mid", "type": "quantitative"}}},
                    {"mark": {"type": "text", "fontSize": 10.5, "color": "#111111"},
                     "encoding": {"y": {"field": "mid", "type": "quantitative"},
                                  "text": {"field": "frac", "type": "quantitative", "format": ".0%"}}}
                  ]
                },
                {
                  "data": {"name": "annD"},
                  "transform": [{"filter": "datum.kind === 'star'"}],
                  "mark": {"type": "text", "fontSize": 10, "fontWeight": "bold", "color": "#111111"},
                  "encoding": {"y": {"datum": 1.035, "type": "quantitative"}, "text": {"field": "label"}}
                },
                {
                  "data": {"name": "annD"},
                  "transform": [{"filter": "datum.kind === 'n'"}],
                  "mark": {"type": "text", "fontSize": 10.5, "color": "#111111"},
                  "encoding": {"y": {"datum": -0.072, "type": "quantitative"}, "text": {"field": "label"}}
                },
                {
                  "data": {"name": "annD"},
                  "transform": [{"filter": "datum.kind === 'chi'"}],
                  "mark": {"type": "text", "fontSize": 7.5, "color": "#111111", "align": "left", "baseline": "middle", "dx": -64},
                  "encoding": {"y": {"datum": 1.118, "type": "quantitative"}, "text": {"field": "label"}}
                },
                {
                  "data": {"name": "annD"},
                  "transform": [{"filter": "datum.kind === 'cap'"}],
                  "mark": {"type": "text", "fontSize": 8.5, "color": "#111111", "align": "right", "baseline": "middle", "dx": 68},
                  "encoding": {"y": {"datum": -0.258, "type": "quantitative"}, "text": {"field": "label"}}
                }
              ]
            },
            {
              "width": 270, "height": 376,
              "view": {"stroke": "#333333", "strokeWidth": 1.2},
              "title": {"text": "E", "fontSize": 28, "fontWeight": "bold", "anchor": "start", "frame": "bounds", "dx": -22, "offset": 31},
              "encoding": {
                "x": {"field": "mut", "type": "nominal", "sort": ["WILD", "Altered"], "scale": {"paddingInner": 0.1, "paddingOuter": 0.1},
                      "axis": {"title": "mut_type", "titleFontSize": 11, "titleFontWeight": "bold", "titlePadding": 3, "labelFontSize": 8.5, "labelColor": "#4D4D4D", "labelAngle": 0, "tickColor": "#4D4D4D", "tickSize": 3, "domain": false, "labelPadding": 2, "grid": false}}
              },
              "layer": [
                {
                  "data": {"name": "barE"},
                  "transform": [
                    {"stack": "n", "groupby": ["mut"], "sort": [{"field": "ord", "order": "ascending"}], "offset": "normalize", "as": ["y0", "y1"]},
                    {"calculate": "(datum.y0 + datum.y1) / 2", "as": "mid"},
                    {"calculate": "datum.y1 - datum.y0", "as": "frac"}
                  ],
                  "layer": [
                    {"mark": {"type": "bar", "stroke": "#1a1a1a", "strokeWidth": 1.5},
                     "encoding": {
                       "y": {"field": "y0", "type": "quantitative", "scale": {"domain": [-0.12, 1.09], "nice": false, "zero": false},
                             "axis": {"values": [0, 0.05, 0.1, 0.15, 0.2, 0.25, 0.3, 0.35, 0.4, 0.45, 0.5, 0.55, 0.6, 0.65, 0.7, 0.75, 0.8, 0.85, 0.9, 0.95, 1.0], "format": ".0%",
                                      "labelExpr": "round(datum.value*100) % 10 === 0 ? datum.label : ''", "labelOverlap": false, "labelOffset": 4,
                                      "labelFontSize": 8.5, "labelColor": "#4D4D4D", "labelPadding": 2, "tickColor": "#4D4D4D", "tickSize": 3,
                                      "tickOpacity": {"condition": {"test": "round(datum.value*100) % 10 === 0", "value": 1}, "value": 0},
                                      "grid": true, "gridColor": {"condition": {"test": "round(datum.value*100) % 10 === 0", "value": "#E4E4E4"}, "value": "#EFEFEF"},
                                      "gridWidth": {"condition": {"test": "round(datum.value*100) % 10 === 0", "value": 1.2}, "value": 0.7},
                                      "domain": false, "title": null}},
                       "y2": {"field": "y1"},
                       "fill": {"field": "sub", "type": "nominal",
                                "scale": {"domain": ["C1", "C2", "C3", "C4", "C6", "C5"], "range": ["#7090BF", "#DB6265", "#CCA4CC", "#AFDBD4", "#D4891F", "#FFFFFF"]},
                                "legend": {"orient": "none", "legendX": 284, "legendY": 140, "title": "Immune_Subtype", "titleFontSize": 10, "titleFontWeight": "bold",
                                           "labelFontSize": 10, "symbolType": "square", "symbolSize": 210, "symbolStrokeColor": "#1a1a1a", "symbolStrokeWidth": 1.5,
                                           "values": ["C1", "C2", "C3", "C4", "C6"], "rowPadding": 2, "titlePadding": 5, "labelColor": "#111111", "padding": 0}}
                     }},
                    {"mark": {"type": "point", "shape": "M-1.8,-1L1.8,-1L1.8,1L-1.8,1Z", "size": 170, "filled": true, "fill": "#FFFFFF", "stroke": "#1a1a1a", "strokeWidth": 1, "opacity": 1},
                     "encoding": {"y": {"field": "mid", "type": "quantitative"}}},
                    {"mark": {"type": "text", "fontSize": 10.5, "color": "#111111"},
                     "encoding": {"y": {"field": "mid", "type": "quantitative"},
                                  "text": {"field": "frac", "type": "quantitative", "format": ".0%"}}}
                  ]
                },
                {
                  "data": {"name": "annE"},
                  "transform": [{"filter": "datum.kind === 'star'"}],
                  "mark": {"type": "text", "fontSize": 10, "fontWeight": "bold", "color": "#111111"},
                  "encoding": {"y": {"datum": 1.035, "type": "quantitative"}, "text": {"field": "label"}}
                },
                {
                  "data": {"name": "annE"},
                  "transform": [{"filter": "datum.kind === 'n'"}],
                  "mark": {"type": "text", "fontSize": 10.5, "color": "#111111"},
                  "encoding": {"y": {"datum": -0.072, "type": "quantitative"}, "text": {"field": "label"}}
                },
                {
                  "data": {"name": "annE"},
                  "transform": [{"filter": "datum.kind === 'chi'"}],
                  "mark": {"type": "text", "fontSize": 7.5, "color": "#111111", "align": "left", "baseline": "middle", "dx": -64},
                  "encoding": {"y": {"datum": 1.118, "type": "quantitative"}, "text": {"field": "label"}}
                },
                {
                  "data": {"name": "annE"},
                  "transform": [{"filter": "datum.kind === 'cap'"}],
                  "mark": {"type": "text", "fontSize": 8.5, "color": "#111111", "align": "right", "baseline": "middle", "dx": 68},
                  "encoding": {"y": {"datum": -0.258, "type": "quantitative"}, "text": {"field": "label"}}
                }
              ]
            }
          ]
        }
      ]
    }
  ]
}
